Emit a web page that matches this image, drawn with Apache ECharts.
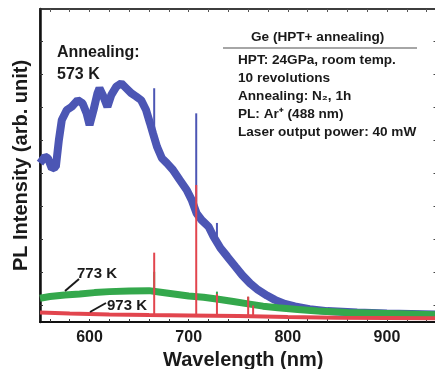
<!DOCTYPE html>
<html><head><meta charset="utf-8">
<script src="https://cdn.jsdelivr.net/npm/echarts@6/dist/echarts.min.js"></script>
<style>html,body{margin:0;padding:0;background:#fff}#c{width:435px;height:369px}</style>
</head><body><div id="c"></div>
<script>
// Wavelength (nm) / PL intensity (arb. unit)
const blue573 = [[550,4.81],[555,5.01],[558,4.96],[562,4.65],[566,4.70],[569,5.5],[572,6.12],[577,6.42],[582,6.52],[588,6.72],[593,6.62],[597,6.32],[600,5.97],[604,6.42],[608,6.93],[610,7.08],[614,6.83],[618,6.52],[622,6.88],[627,7.13],[632,7.23],[637,7.08],[642,6.93],[647,6.83],[652,6.72],[657,6.42],[661,6.02],[664,5.71],[668,5.31],[673,4.96],[678,4.81],[684,4.61],[691,4.30],[698,4.00],[703,3.70],[708,3.29],[713,3.09],[720,2.89],[725,2.59],[732,2.24],[739,1.98],[747,1.68],[754,1.42],[762,1.17],[770,0.97],[779,0.80],[787,0.67],[797,0.55],[807,0.47],[822,0.39],[840,0.33],[870,0.29],[900,0.26],[950,0.23]];
const green773 = [[550,0.72],[560,0.77],[575,0.82],[590,0.85],[605,0.89],[620,0.92],[640,0.94],[660,0.95],[670,0.91],[685,0.85],[700,0.79],[715,0.75],[730,0.69],[745,0.62],[760,0.55],[775,0.48],[790,0.43],[810,0.38],[830,0.33],[860,0.29],[900,0.26],[950,0.22]];
const red973 = [[550,0.29],[580,0.26],[620,0.23],[660,0.21],[700,0.20],[750,0.18],[800,0.15],[850,0.13],[900,0.12],[950,0.11]];
// spikes: [wavelength, base, peak]
const blueSpikes = [[665.2,5.7,7.08],[707.6,3.3,6.32],[728.5,2.5,3.0]];
const greenSpikes = [[665.2,0.9,1.52],[728.5,0.7,0.92],[760,0.55,0.76]];
const redSpikes = [[665.2,0.2,2.1],[707.6,0.2,4.15],[728.5,0.2,0.85],[760,0.18,0.77],[765,0.18,0.5]];
const xLabels = [600,700,800,900];
const xTicks = [560,580,600,620,640,660,680,700,720,740,760,780,800,820,840,860,880,900,920,940];
const yTicks = [0.5,1.5,2.5,3.5,4.5,5.5,6.5,7.5,8.5];

const BLUE='#4c56b4', GREEN='#34a84c', RED='#e2454e';
const chart = echarts.init(document.getElementById('c'), null, {renderer:'canvas'});
function spikeSeries(data,color,z){
  return {type:'custom', data:data, z:z, silent:true,
    renderItem:function(params,api){
      const p0=api.coord([api.value(0),api.value(1)]);
      const p1=api.coord([api.value(0),api.value(2)]);
      return {type:'line',shape:{x1:p0[0],y1:p0[1],x2:p1[0],y2:p1[1]},style:{stroke:color,lineWidth:2}};
    }};
}
const F='"Liberation Sans", Arial, sans-serif';
const TF='bold 13.6px '+F;
const INK='#1a1a1a';
chart.setOption({
  animation:false,
  grid:{left:40,right:-1.5,top:9,bottom:47,containLabel:false,outerBoundsMode:'none',
    show:true,borderColor:'#333',borderWidth:1.5,backgroundColor:'transparent'},
  xAxis:[{type:'value',min:550,max:950,position:'bottom',
    axisLine:{onZero:false,lineStyle:{color:'#111',width:2}},
    axisTick:{inside:true,length:3,customValues:xTicks,lineStyle:{color:'#333'}},
    axisLabel:{customValues:xLabels,fontFamily:F,fontWeight:'bold',fontSize:16,color:INK,margin:8},
    splitLine:{show:false},
    name:'Wavelength (nm)',nameLocation:'middle',nameGap:27,
    nameTextStyle:{fontFamily:F,fontWeight:'bold',fontSize:20,color:INK,padding:[0,0,0,10]}},
   {type:'value',min:550,max:950,position:'top',show:true,
    axisLine:{show:true,onZero:false,lineStyle:{color:'#333',width:1.5}},
    axisTick:{show:true,inside:true,length:3,customValues:xTicks,lineStyle:{color:'#555'}},
    axisLabel:{show:false},splitLine:{show:false}}],
  yAxis:[{type:'value',min:0,max:9.48,position:'left',
    axisLine:{show:true,onZero:false,lineStyle:{color:'#111',width:2.5}},
    axisTick:{show:true,inside:true,length:3,customValues:yTicks,lineStyle:{color:'#333'}},
    axisLabel:{show:false},splitLine:{show:false},
    name:'PL Intensity (arb. unit)',nameLocation:'middle',nameGap:9,
    nameTextStyle:{fontFamily:F,fontWeight:'bold',fontSize:20,color:INK}},
   {type:'value',min:0,max:9.48,position:'right',
    axisLine:{show:false,onZero:false},
    axisTick:{show:true,inside:true,length:3,customValues:yTicks,lineStyle:{color:'#444'}},
    axisLabel:{show:false},splitLine:{show:false}}],
  series:[
    {type:'line',data:blue573,symbol:'none',z:2,lineStyle:{color:BLUE,width:8},silent:true},
    spikeSeries(blueSpikes,BLUE,3),
    {type:'line',data:green773,symbol:'none',z:4,lineStyle:{color:GREEN,width:7},silent:true},
    spikeSeries(greenSpikes,GREEN,5),
    {type:'line',data:red973,symbol:'none',z:6,lineStyle:{color:RED,width:4},silent:true},
    spikeSeries(redSpikes,RED,7)
  ],
  graphic:{elements:[
    {type:'text',z:100,left:57,top:45,style:{text:'Annealing:',font:'bold 16px '+F,fill:INK}},
    {type:'text',z:100,left:57,top:67,style:{text:'573 K',font:'bold 16px '+F,fill:INK}},
    {type:'text',z:100,left:77,top:266,style:{text:'773 K',font:'bold 15px '+F,fill:INK}},
    {type:'line',z:100,shape:{x1:65,y1:291,x2:79,y2:279},style:{stroke:INK,lineWidth:2}},
    {type:'text',z:100,left:107,top:298,style:{text:'973 K',font:'bold 15px '+F,fill:INK}},
    {type:'line',z:100,shape:{x1:90,y1:312,x2:106,y2:303},style:{stroke:INK,lineWidth:2}},
    {type:'text',z:100,left:251,top:30,style:{text:'Ge (HPT+ annealing)',font:TF,fill:INK}},
    {type:'line',z:100,shape:{x1:223,y1:48,x2:417,y2:48},style:{stroke:'#888',lineWidth:1.5}},
    {type:'text',z:100,left:238,top:53,style:{text:'HPT: 24GPa, room temp.',font:TF,fill:INK}},
    {type:'text',z:100,left:238,top:71,style:{text:'10 revolutions',font:TF,fill:INK}},
    {type:'text',z:100,left:238,top:89,style:{text:'Annealing: N\u2082, 1h',font:TF,fill:INK}},
    {type:'text',z:100,left:238,top:107,style:{text:'PL: Ar\u207A (488 nm)',font:TF,fill:INK}},
    {type:'text',z:100,left:238,top:125,style:{text:'Laser output power: 40 mW',font:TF,fill:INK}}
  ]}
});
</script></body></html>
